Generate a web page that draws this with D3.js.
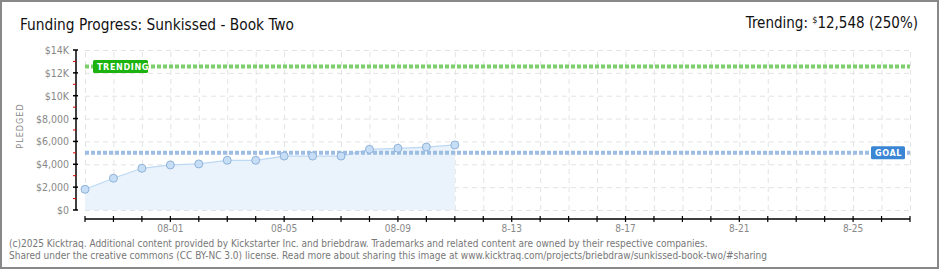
<html lang="en">
<head>
  <meta charset="UTF-8"/>
  <script src="https://d3js.org/d3.v7.min.js"></script>
  <style>
body { margin: 0; background: #fff; }
svg { display: block; }
text { font-family: 'DejaVu Sans Condensed', 'DejaVu Sans', sans-serif; }
text.title { font-size: 15px; fill: #111; }
text.tick_label { font-size: 10.5px; fill: #888; }
text.axis_title { font-size: 9px; fill: #888; letter-spacing: 1px; }
text.footer { font-size: 10px; fill: #777; }
.grid line { stroke: #e3e3e3; stroke-dasharray: 5,4; }
.grid path { stroke-width: 0; }
  </style>
</head>
<body>
<svg width="940" height="270"></svg>
<script>

  // data
  const days = ['07-29','07-30','07-31','08-01','08-02','08-03','08-04','08-05','08-06','08-07',
    '08-08','08-09','08-10','08-11','08-12','08-13','08-14','08-15','08-16','08-17','08-18',
    '08-19','08-20','08-21','08-22','08-23','08-24','08-25','08-26','08-27']
  const pledged = [1810, 2780, 3650, 3940, 4030, 4350, 4350, 4720, 4720, 4720, 5310, 5400, 5510, 5690]
  const tickLabels = {'08-01':'08-01','08-05':'08-05','08-09':'08-09','08-13':'8-13','08-17':'8-17','08-21':'8-21','08-25':'8-25'}
  const yTicks = [0, 2000, 4000, 6000, 8000, 10000, 12000, 14000]
  const yTickLabels = ['$0','$2,000','$4,000','$6,000','$8,000','$10K','$12K','$14K']
  const goal = 5000
  const trending = 12548

  const svg = d3.select('svg')

  const margin = { left: 85, right: 30, top: 50, bottom: 60 }
  const W = 940, H = 270
  const width = W - margin.left - margin.right
  const height = H - margin.top - margin.bottom

  svg.append('rect')
    .attr('x', 1).attr('y', 1)
    .attr('width', W - 3).attr('height', H - 3)
    .attr('fill', '#fff')
    .attr('stroke', '#888')
    .attr('stroke-width', 2)

  const x = d3.scalePoint()
    .domain(days)
    .range([0, width])

  const y = d3.scaleLinear()
    .domain([0, 14000])
    .range([height, 0])

  const chart = svg.append('g')
    .attr('transform', `translate(${margin.left},${margin.top})`)

  // grid
  chart.append('g')
    .attr('class', 'grid')
    .call(d3.axisLeft(y).tickValues(yTicks).tickSize(-width).tickFormat(''))

  chart.append('g')
    .attr('class', 'grid')
    .attr('transform', `translate(0,${height})`)
    .call(d3.axisBottom(x).tickSize(-height).tickFormat(''))

  // area + line + points
  const pts = pledged.map((v, i) => ({ d: days[i], v: v }))

  chart.append('path')
    .datum(pts)
    .attr('fill', '#eaf3fc')
    .attr('d', d3.area().x(d => x(d.d)).y0(y(0)).y1(d => y(d.v)))

  chart.append('path')
    .datum(pts)
    .attr('fill', 'none')
    .attr('stroke', '#bcd8f3')
    .attr('stroke-width', 1.2)
    .attr('d', d3.line().x(d => x(d.d)).y(d => y(d.v)))

  // goal and trending lines
  function refLine (val, color) {
    chart.append('line')
      .attr('x1', 0).attr('x2', width)
      .attr('y1', y(val)).attr('y2', y(val))
      .attr('stroke', color)
      .attr('stroke-width', 4)
      .attr('stroke-dasharray', '4,2')
  }
  refLine(goal, '#9dbde3')
  refLine(trending, '#7dcf6d')

  chart.selectAll('circle')
    .data(pts)
    .enter().append('circle')
    .attr('cx', d => x(d.d))
    .attr('cy', d => y(d.v))
    .attr('r', 4)
    .attr('fill', '#c6def6')
    .attr('stroke', '#90b2d8')
    .attr('stroke-width', 1)

  function badge (bx, val, label, color, w) {
    chart.append('rect')
      .attr('x', bx).attr('y', y(val) - 6.5)
      .attr('width', w).attr('height', 13)
      .attr('rx', 1.5)
      .attr('fill', color)
    chart.append('text')
      .attr('x', bx + 4).attr('y', y(val) + 3.5)
      .attr('fill', '#fff')
      .style('font-size', '9px')
      .style('font-weight', 'bold')
      .style('letter-spacing', '0.6px')
      .text(label)
  }
  badge(8, trending, 'TRENDING', '#1cb30f', 55)
  badge(786, goal, 'GOAL', '#3a86d4', 34)

  // y axis
  const yAxis = chart.append('g').attr('transform', 'translate(-9,0)')
  yAxis.append('line')
    .attr('y1', y(0)).attr('y2', y(14000))
    .attr('stroke', '#000').attr('stroke-width', 1.5)
  yAxis.selectAll('line.minor')
    .data(d3.range(1000, 14000, 2000))
    .enter().append('line')
    .attr('x1', -3).attr('x2', 0)
    .attr('y1', d => y(d)).attr('y2', d => y(d))
    .attr('stroke', '#e00000').attr('stroke-width', 1)
  yAxis.selectAll('line.major')
    .data(yTicks)
    .enter().append('line')
    .attr('x1', -3).attr('x2', 2)
    .attr('y1', d => y(d)).attr('y2', d => y(d))
    .attr('stroke', '#000').attr('stroke-width', 1.5)
  yAxis.selectAll('text')
    .data(yTicks)
    .enter().append('text')
    .attr('class', 'tick_label')
    .attr('x', -7)
    .attr('y', d => y(d) + 4)
    .attr('text-anchor', 'end')
    .text((d, i) => yTickLabels[i])

  // x axis
  const xAxis = chart.append('g').attr('transform', `translate(0,${height + 9})`)
  xAxis.append('line')
    .attr('x1', 0).attr('x2', width)
    .attr('stroke', '#000').attr('stroke-width', 1.5)
  xAxis.selectAll('line.tick')
    .data(days)
    .enter().append('line')
    .attr('x1', d => x(d)).attr('x2', d => x(d))
    .attr('y1', -3).attr('y2', 3)
    .attr('stroke', '#000').attr('stroke-width', 1.2)
  xAxis.selectAll('text')
    .data(days.filter(d => tickLabels[d]))
    .enter().append('text')
    .attr('class', 'tick_label')
    .attr('x', d => x(d))
    .attr('y', 13)
    .attr('text-anchor', 'middle')
    .style('font-size', '10px')
    .text(d => tickLabels[d])

  chart.append('text')
    .attr('class', 'axis_title')
    .attr('transform', 'rotate(-90)')
    .attr('x', -76)
    .attr('y', -62)
    .attr('text-anchor', 'middle')
    .text('PLEDGED')

  // titles
  svg.append('text')
    .attr('class', 'title')
    .attr('x', 20).attr('y', 30)
    .style('font-size', '15.3px')
    .text('Funding Progress: Sunkissed - Book Two')

  const trendText = svg.append('text')
    .attr('class', 'title')
    .attr('x', 918).attr('y', 28)
    .attr('text-anchor', 'end')
  trendText.append('tspan').text('Trending:  ')
  trendText.append('tspan').attr('dy', -5).style('font-size', '9px').text('$')
  trendText.append('tspan').attr('dy', 5).text('12,548 (250%)')

  svg.append('text')
    .attr('class', 'footer')
    .attr('x', 9).attr('y', 247)
    .text('(c)2025 Kicktraq. Additional content provided by Kickstarter Inc. and briebdraw. Trademarks and related content are owned by their respective companies.')

  svg.append('text')
    .attr('class', 'footer')
    .attr('x', 9).attr('y', 259)
    .text('Shared under the creative commons (CC BY-NC 3.0) license. Read more about sharing this image at www.kicktraq.com/projects/briebdraw/sunkissed-book-two/#sharing')

</script>
</body>
</html>
